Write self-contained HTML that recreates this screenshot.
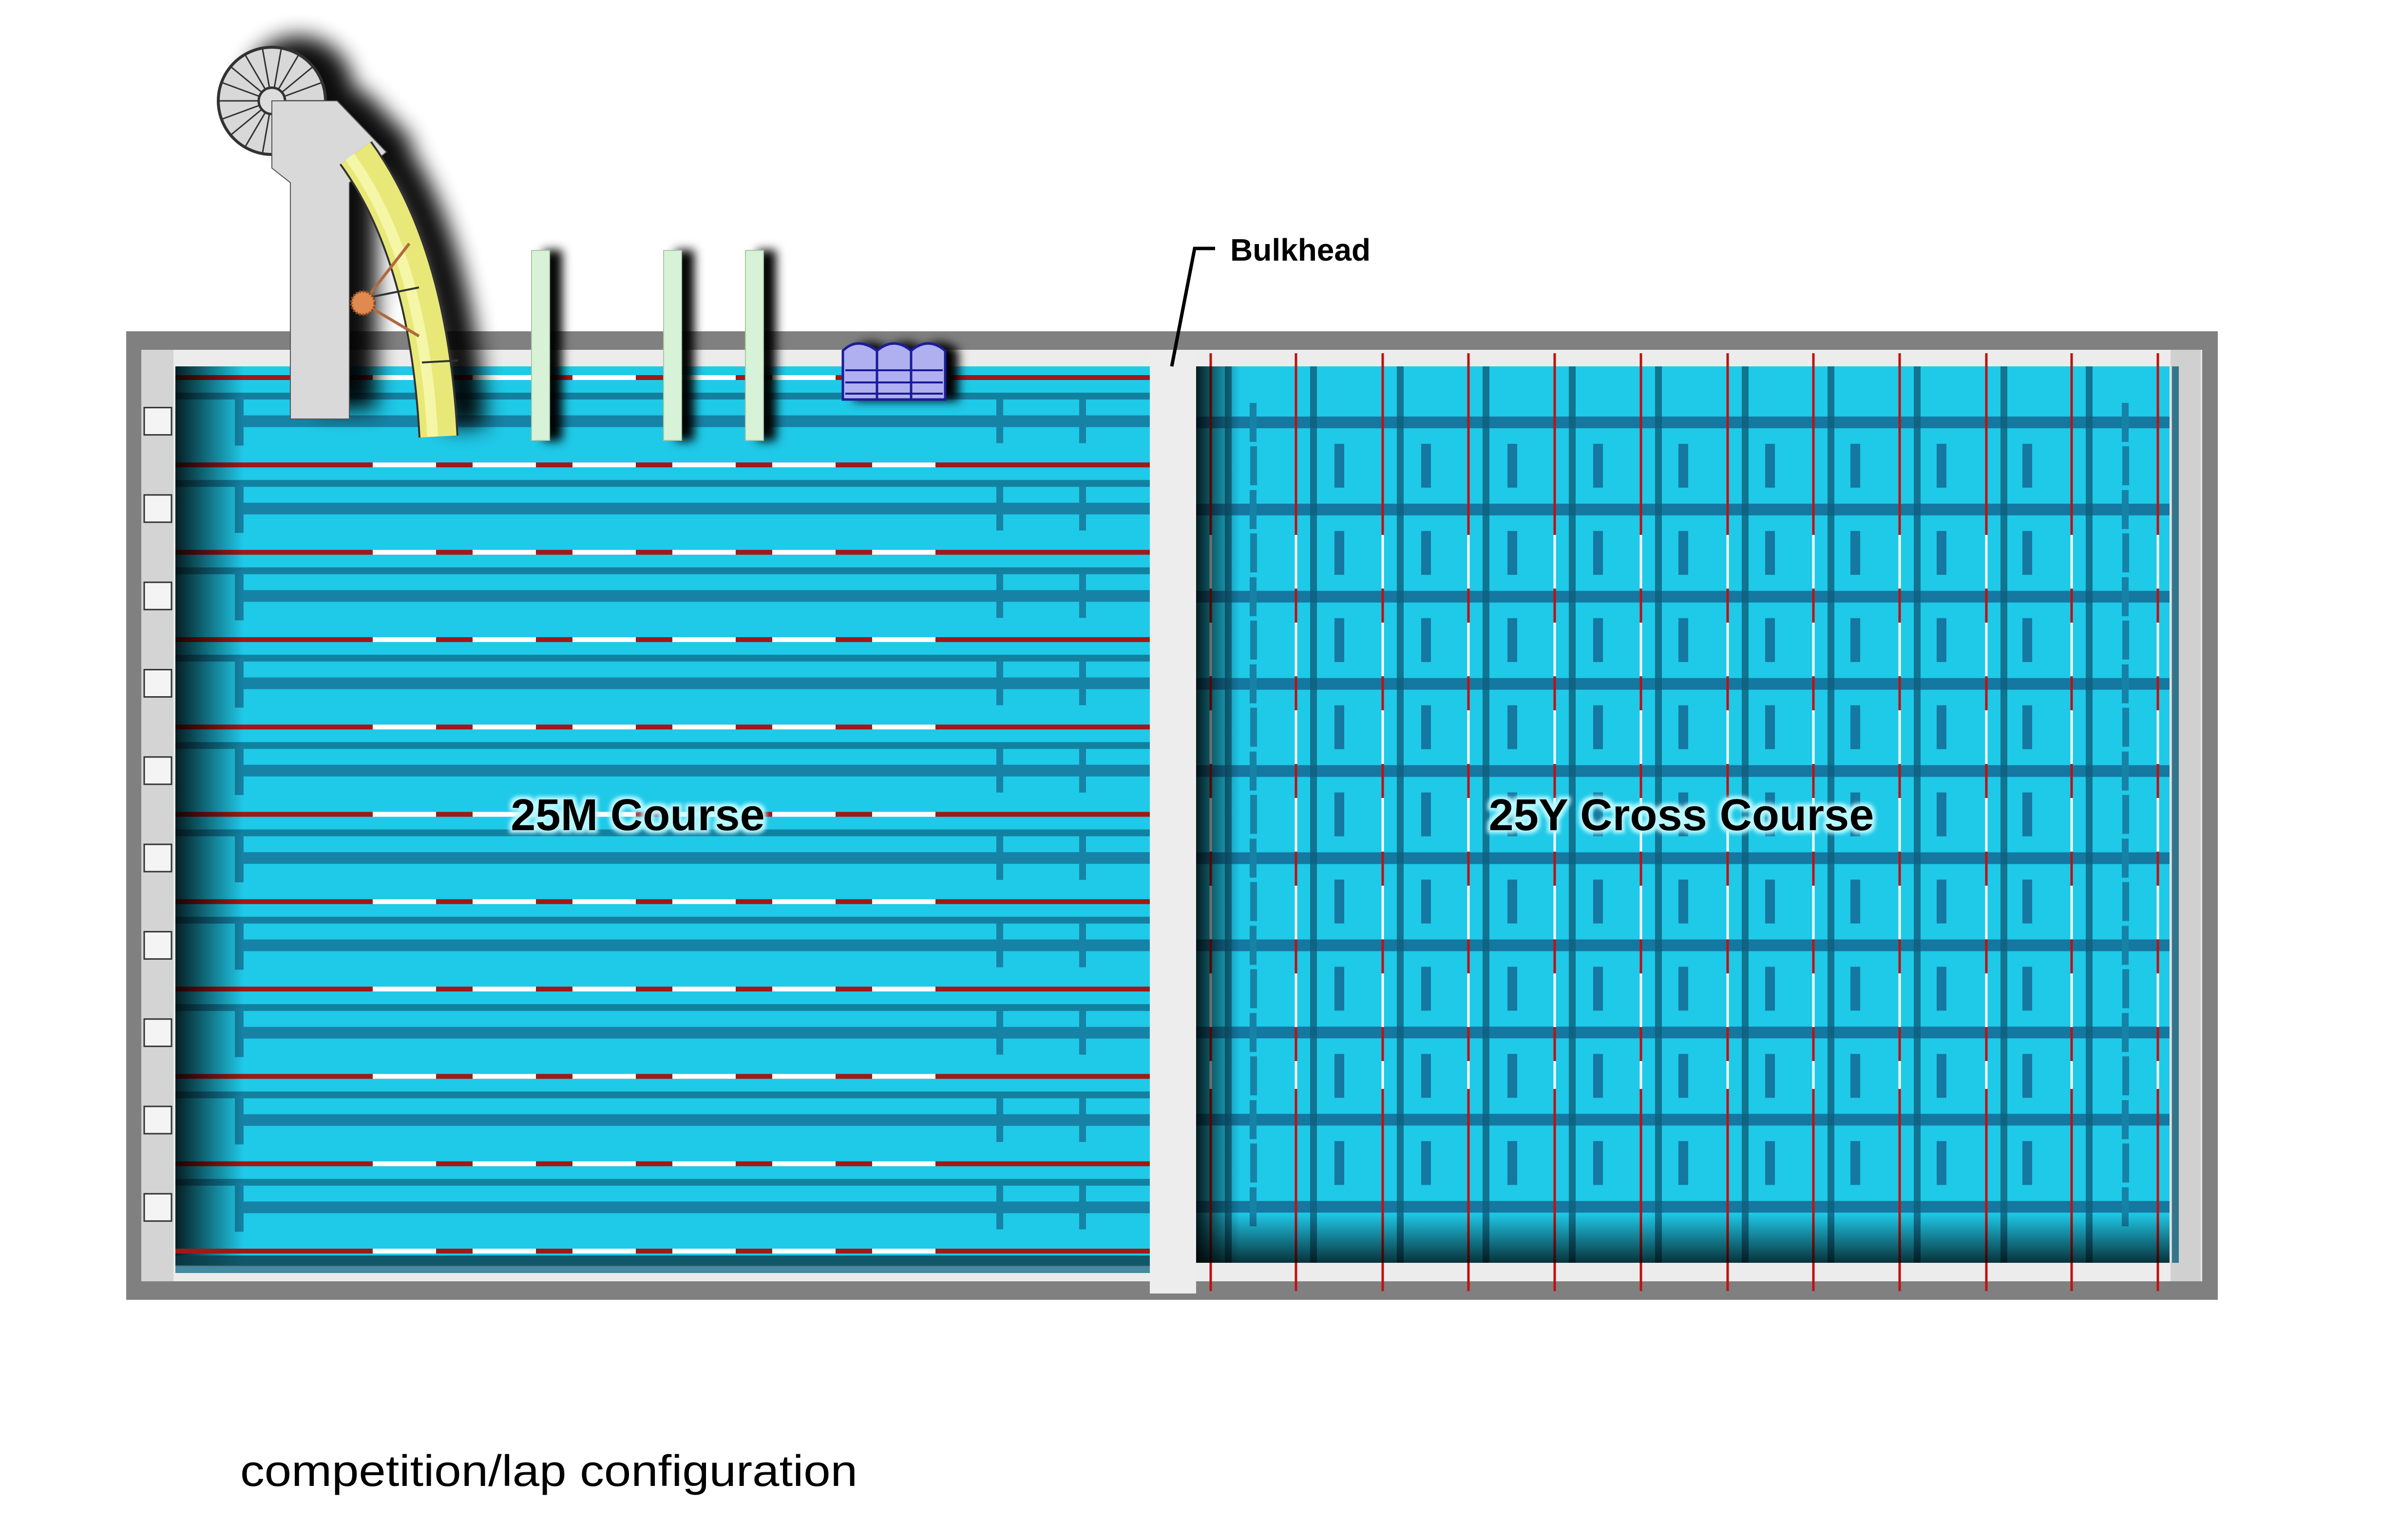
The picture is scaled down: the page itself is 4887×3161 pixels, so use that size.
<!DOCTYPE html>
<html><head><meta charset="utf-8"><style>
html,body{margin:0;padding:0;background:#fff;}
svg{display:block;}
</style></head><body>
<svg xmlns="http://www.w3.org/2000/svg" xmlns:xlink="http://www.w3.org/1999/xlink" width="4887" height="3161" viewBox="0 0 4887 3161">
<defs>
<filter id="sh" x="-50%" y="-50%" width="200%" height="200%"><feGaussianBlur in="SourceAlpha" stdDeviation="22"/><feOffset dx="55" dy="-20"/><feComponentTransfer><feFuncA type="linear" slope="0.95"/></feComponentTransfer><feMerge><feMergeNode/><feMergeNode in="SourceGraphic"/></feMerge></filter>
<filter id="sh2" x="-50%" y="-50%" width="200%" height="200%"><feGaussianBlur in="SourceAlpha" stdDeviation="10"/><feOffset dx="25" dy="0"/><feMerge><feMergeNode/><feMergeNode in="SourceGraphic"/></feMerge></filter>
<filter id="gl" x="-20%" y="-50%" width="140%" height="200%"><feMorphology in="SourceAlpha" operator="dilate" radius="6" result="d"/><feGaussianBlur in="d" stdDeviation="4" result="b"/><feFlood flood-color="#b8f8ff"/><feComposite in2="b" operator="in" result="c"/><feMerge><feMergeNode in="c"/><feMergeNode in="SourceGraphic"/></feMerge></filter>
<linearGradient id="lsh" x1="0" x2="1" y1="0" y2="0"><stop offset="0" stop-color="#000" stop-opacity="0.85"/><stop offset="1" stop-color="#000" stop-opacity="0"/></linearGradient>
<linearGradient id="bsh" x1="0" x2="0" y1="0" y2="1"><stop offset="0" stop-color="#000" stop-opacity="0"/><stop offset="1" stop-color="#000" stop-opacity="0.75"/></linearGradient>

<g id="rope">
 <line x1="360" y1="38" x2="2360" y2="38" stroke="#0e6a88" stroke-width="14" opacity="0.75"/>
 <line x1="360" y1="0" x2="2360" y2="0" stroke="#a01818" stroke-width="10"/>
 <line x1="765" y1="0" x2="1960" y2="0" stroke="#fff" stroke-width="10" stroke-dasharray="130 75"/>
</g>
<g id="lane">
 <use xlink:href="#rope"/>
 <line x1="490" y1="89.6" x2="2360" y2="89.6" stroke="#1683a6" stroke-width="24"/>
 <rect x="482" y="39.6" width="18" height="100" fill="#1683a6"/>
 <rect x="2045" y="44.6" width="14" height="90" fill="#1683a6"/>
 <rect x="2215" y="44.6" width="14" height="90" fill="#1683a6"/>
</g>
<rect id="blk" x="296" y="-28" width="56" height="56" fill="#f4f4f4" stroke="#333" stroke-width="3"/>
<g id="hl">
 <line x1="2455" y1="0" x2="4453" y2="0" stroke="#1478a0" stroke-width="24"/>
 <rect x="2565" y="-40" width="14" height="80" fill="#1683a6"/>
 <rect x="4355" y="-40" width="14" height="80" fill="#1683a6"/>
</g>
<g id="mr" fill="#1478a0">
 <rect x="2739" y="-45" width="20" height="90"/><rect x="2917" y="-45" width="20" height="90"/>
 <rect x="3094" y="-45" width="20" height="90"/><rect x="3270" y="-45" width="20" height="90"/>
 <rect x="3445" y="-45" width="20" height="90"/><rect x="3623" y="-45" width="20" height="90"/>
 <rect x="3798" y="-45" width="20" height="90"/><rect x="3975" y="-45" width="20" height="90"/>
 <rect x="4151" y="-45" width="20" height="90"/>
 <rect x="2566" y="-40" width="14" height="80" fill="#1683a6"/>
 <rect x="4356" y="-40" width="14" height="80" fill="#1683a6"/>
</g>
<g id="rp">
 <line x1="36" y1="752" x2="36" y2="2592" stroke="#0e5f7c" stroke-width="14" opacity="0.8"/>
 <line x1="0" y1="725" x2="0" y2="2650" stroke="#c01010" stroke-width="5"/>
 <line x1="0" y1="1098" x2="0" y2="2235" stroke="#fff" stroke-width="5" stroke-dasharray="110 70"/>
</g>
</defs>

<!-- frame -->
<rect x="259" y="680" width="4293" height="1988" fill="#808080"/>
<rect x="290" y="718" width="4230" height="1912" fill="#ececec"/>
<rect x="290" y="718" width="66" height="1912" fill="#d4d4d4"/>
<rect x="4455" y="718" width="62" height="1912" fill="#d0d0d0"/>

<!-- water -->
<rect x="360" y="752" width="2000" height="1845" fill="#1fc9e8"/>
<rect x="2455" y="752" width="1998" height="1840" fill="#1fc9e8"/>

<!-- left pool lanes -->
<use xlink:href="#lane" transform="translate(0,775)"/>
<use xlink:href="#lane" transform="translate(0,954.3)"/>
<use xlink:href="#lane" transform="translate(0,1133.6)"/>
<use xlink:href="#lane" transform="translate(0,1312.9)"/>
<use xlink:href="#lane" transform="translate(0,1492.2)"/>
<use xlink:href="#lane" transform="translate(0,1671.5)"/>
<use xlink:href="#lane" transform="translate(0,1850.8)"/>
<use xlink:href="#lane" transform="translate(0,2030.1)"/>
<use xlink:href="#lane" transform="translate(0,2209.4)"/>
<use xlink:href="#lane" transform="translate(0,2388.7)"/>

<!-- right pool -->
<use xlink:href="#hl" transform="translate(0,867)"/>
<use xlink:href="#hl" transform="translate(0,1045.9)"/>
<use xlink:href="#hl" transform="translate(0,1224.8)"/>
<use xlink:href="#hl" transform="translate(0,1403.7)"/>
<use xlink:href="#hl" transform="translate(0,1582.6)"/>
<use xlink:href="#hl" transform="translate(0,1761.5)"/>
<use xlink:href="#hl" transform="translate(0,1940.4)"/>
<use xlink:href="#hl" transform="translate(0,2119.3)"/>
<use xlink:href="#hl" transform="translate(0,2298.2)"/>
<use xlink:href="#hl" transform="translate(0,2477.1)"/>
<use xlink:href="#mr" transform="translate(0,956)"/>
<use xlink:href="#mr" transform="translate(0,1134.9)"/>
<use xlink:href="#mr" transform="translate(0,1313.8)"/>
<use xlink:href="#mr" transform="translate(0,1492.7)"/>
<use xlink:href="#mr" transform="translate(0,1671.6)"/>
<use xlink:href="#mr" transform="translate(0,1850.5)"/>
<use xlink:href="#mr" transform="translate(0,2029.4)"/>
<use xlink:href="#mr" transform="translate(0,2208.3)"/>
<use xlink:href="#mr" transform="translate(0,2387.2)"/>
<use xlink:href="#rp" transform="translate(2485,0)"/>
<use xlink:href="#rp" transform="translate(2660,0)"/>
<use xlink:href="#rp" transform="translate(2838,0)"/>
<use xlink:href="#rp" transform="translate(3014,0)"/>
<use xlink:href="#rp" transform="translate(3191,0)"/>
<use xlink:href="#rp" transform="translate(3368,0)"/>
<use xlink:href="#rp" transform="translate(3546,0)"/>
<use xlink:href="#rp" transform="translate(3722,0)"/>
<use xlink:href="#rp" transform="translate(3899,0)"/>
<use xlink:href="#rp" transform="translate(4077,0)"/>
<use xlink:href="#rp" transform="translate(4252,0)"/>
<use xlink:href="#rp" transform="translate(4429,0)"/>

<!-- shadows -->
<rect x="360" y="752" width="140" height="1845" fill="url(#lsh)"/>
<rect x="2455" y="752" width="90" height="1840" fill="url(#lsh)"/>
<rect x="2455" y="2490" width="1998" height="102" fill="url(#bsh)"/>
<rect x="360" y="2577" width="2000" height="22" fill="#0b3c4a" opacity="0.8"/>
<use xlink:href="#rope" transform="translate(0,2568)"/>

<!-- bulkhead -->
<rect x="2360" y="725" width="95" height="1930" fill="#ededed"/>
<polyline points="2494,510 2452,510 2405,752" fill="none" stroke="#000" stroke-width="7"/>
<text x="2525" y="535" font-family="Liberation Sans, sans-serif" font-weight="bold" font-size="64" fill="#000">Bulkhead</text>

<!-- left wall blocks -->
<use xlink:href="#blk" transform="translate(0,864.6)"/>
<use xlink:href="#blk" transform="translate(0,1043.9)"/>
<use xlink:href="#blk" transform="translate(0,1223.2)"/>
<use xlink:href="#blk" transform="translate(0,1402.5)"/>
<use xlink:href="#blk" transform="translate(0,1581.8)"/>
<use xlink:href="#blk" transform="translate(0,1761.1)"/>
<use xlink:href="#blk" transform="translate(0,1940.4)"/>
<use xlink:href="#blk" transform="translate(0,2119.7)"/>
<use xlink:href="#blk" transform="translate(0,2299)"/>
<use xlink:href="#blk" transform="translate(0,2478.3)"/>

<!-- slide -->
<g filter="url(#sh)">
<circle cx="558" cy="207" r="110" fill="#d8d8d8" stroke="#333" stroke-width="6"/>
<g stroke="#333" stroke-width="3">
<line x1="585" y1="207" x2="666" y2="207"/><line x1="583" y1="216" x2="659" y2="244"/><line x1="578" y1="224" x2="641" y2="276"/>
<line x1="571" y1="230" x2="612" y2="300"/><line x1="563" y1="234" x2="577" y2="313"/><line x1="553" y1="234" x2="539" y2="313"/>
<line x1="545" y1="230" x2="504" y2="300"/><line x1="538" y1="224" x2="475" y2="276"/><line x1="533" y1="216" x2="457" y2="244"/>
<line x1="531" y1="207" x2="450" y2="207"/><line x1="533" y1="198" x2="457" y2="170"/><line x1="538" y1="190" x2="475" y2="138"/>
<line x1="545" y1="184" x2="504" y2="114"/><line x1="553" y1="180" x2="539" y2="101"/><line x1="563" y1="180" x2="577" y2="101"/>
<line x1="571" y1="184" x2="612" y2="114"/><line x1="578" y1="190" x2="641" y2="138"/><line x1="583" y1="198" x2="659" y2="170"/>
</g>
<circle cx="558" cy="207" r="27" fill="#ddd" stroke="#333" stroke-width="5"/>
<polygon points="558,207 692,207 793,312 717,375 717,860 596,860 596,375 558,345" fill="#d9d9d9" stroke="#555" stroke-width="2"/>
<path d="M730,314 Q880,520 900,896" fill="none" stroke="#333" stroke-width="82"/>
<path d="M730,314 Q880,520 900,896" fill="none" stroke="#e8e878" stroke-width="74"/>
<path d="M718,322 Q868,528 888,896" fill="none" stroke="#f6f6a8" stroke-width="22"/>
<line x1="760" y1="610" x2="860" y2="590" stroke="#333" stroke-width="4"/>
<line x1="866" y1="744" x2="940" y2="740" stroke="#333" stroke-width="4"/>
</g>
<line x1="745" y1="622" x2="840" y2="500" stroke="#b06a40" stroke-width="6"/>
<line x1="745" y1="622" x2="860" y2="690" stroke="#b06a40" stroke-width="6"/>
<circle cx="745" cy="622" r="24" fill="#e08a50" stroke="#8a4a20" stroke-width="5" stroke-dasharray="4 3"/>

<!-- green boards -->
<g filter="url(#sh2)">
<rect x="1091" y="514" width="37" height="390" fill="#d8f2d8" stroke="#a8c8a8" stroke-width="2"/>
<rect x="1362" y="514" width="37" height="390" fill="#d8f2d8" stroke="#a8c8a8" stroke-width="2"/>
<rect x="1530" y="514" width="37" height="390" fill="#d8f2d8" stroke="#a8c8a8" stroke-width="2"/>
</g>
<!-- chairs -->
<g filter="url(#sh2)" stroke="#1a1a9a" stroke-width="5" fill="#b0b0f0">
<path d="M1730,820 L1730,720 Q1760,690 1800,720 L1800,820 Z"/>
<path d="M1800,820 L1800,720 Q1835,690 1870,720 L1870,820 Z"/>
<path d="M1870,820 L1870,720 Q1905,690 1940,720 L1940,820 Z"/>
</g>
<g stroke="#1a1a9a" stroke-width="4">
<line x1="1735" y1="760" x2="1935" y2="760"/><line x1="1735" y1="785" x2="1935" y2="785"/><line x1="1735" y1="808" x2="1935" y2="808"/>
</g>

<text x="1309" y="1704" text-anchor="middle" font-family="Liberation Sans, sans-serif" font-weight="bold" font-size="92" fill="#000" filter="url(#gl)">25M Course</text>
<text x="3451" y="1704" text-anchor="middle" font-family="Liberation Sans, sans-serif" font-weight="bold" font-size="92" fill="#000" filter="url(#gl)">25Y Cross Course</text>

<text x="493" y="3050" font-family="Liberation Sans, sans-serif" font-size="90" fill="#000" textLength="1267" lengthAdjust="spacingAndGlyphs">competition/lap configuration</text>
</svg>
</body></html>
